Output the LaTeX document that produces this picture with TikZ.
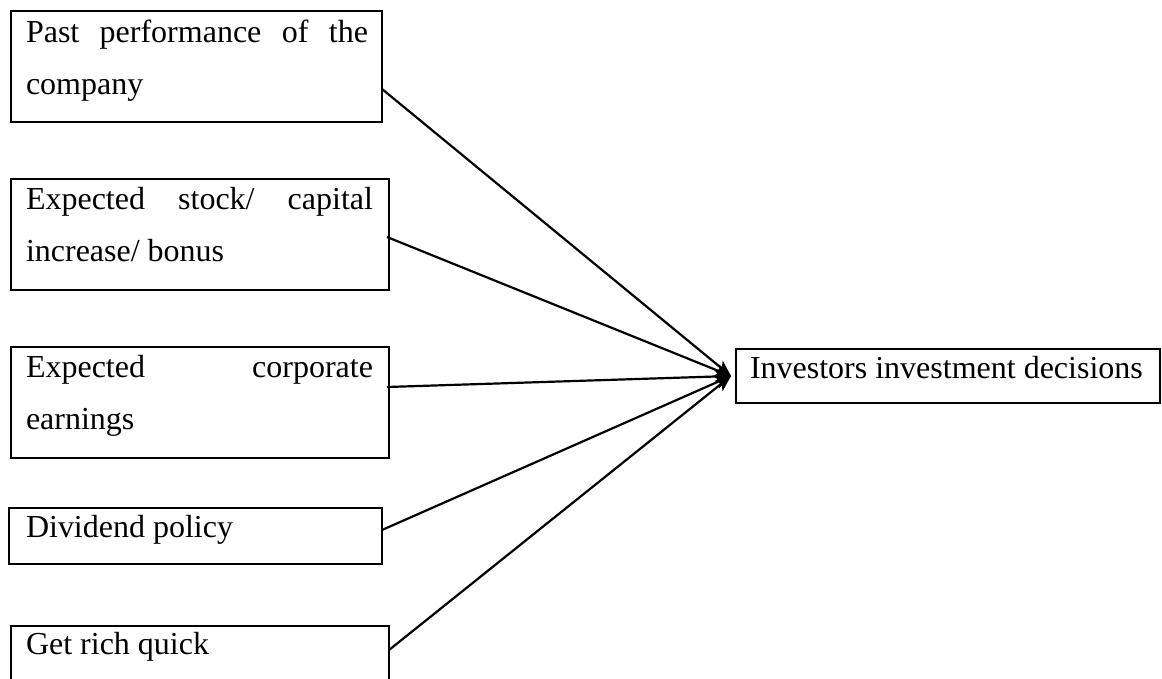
\documentclass[tikz,border=0pt]{standalone}
\usepackage{fontspec}
\setmainfont{Liberation Serif}
\usetikzlibrary{arrows.meta,calc}
\begin{document}
\begin{tikzpicture}[x=1pt,y=-1pt,
  boxnode/.style={draw, line width=2.2pt, anchor=north west, inner sep=0pt, outer sep=0pt},
  txt/.style={anchor=north west, inner sep=0pt, outer sep=0pt, align=left,
    font=\fontsize{32}{52}\selectfont},
  conn/.style={line width=2.2pt, -{Stealth[length=16pt,width=13pt,inset=4pt]}}
]
\clip (0,0) rectangle (1162,678);
\fill[white] (0,0) rectangle (1162,678);
% source boxes
\node[boxnode, minimum width=371pt, minimum height=111pt] (b1) at (11,11) {};
\node[boxnode, minimum width=378pt, minimum height=111pt] (b2) at (11,179) {};
\node[boxnode, minimum width=378pt, minimum height=111pt] (b3) at (11,347) {};
\node[boxnode, minimum width=373pt, minimum height=56pt] (b4) at (9,508) {};
\node[boxnode, minimum width=378pt, minimum height=90pt] (b5) at (11,626) {};
% target box
\node[boxnode, minimum width=424pt, minimum height=54pt] (t) at (736,349) {};
% texts
\node[txt] (l1) at ($(b1.north west)+(15,0)$)
  {\makebox[342pt][s]{\rule{0pt}{31pt}Past performance of the}\\company};
\node[txt] (l2) at ($(b2.north west)+(15,0)$)
  {\makebox[347pt][s]{\rule{0pt}{30pt}Expected stock/ capital}\\increase/ bonus};
\node[txt] (l3) at ($(b3.north west)+(15,0)$)
  {\makebox[347pt][s]{\rule{0pt}{30pt}Expected corporate}\\earnings};
\node[txt] (l4) at ($(b4.north west)+(17,0)$)
  {\rule{0pt}{29pt}Dividend policy};
\node[txt] (l5) at ($(b5.north west)+(15,0)$)
  {\rule{0pt}{28pt}Get rich quick};
\node[txt] (lt) at ($(t.north west)+(14,0)$)
  {\rule{0pt}{29pt}Investors investment decisions};
% connectors
\coordinate (tip) at ($(t.west)+(-5,0)$);
\coordinate (s1) at ($(b1.south east)+(0,-33)$);
\coordinate (s2) at ($(b2.south east)+(-2,-53)$);
\coordinate (s3) at ($(b3.south east)+(-2,-71)$);
\coordinate (s4) at ($(b4.south east)+(0,-34)$);
\coordinate (s5) at ($(b5.north east)+(0,24)$);
\draw[conn] (s1) -- (tip);
\draw[conn] (s2) -- (tip);
\draw[conn] (s3) -- (tip);
\draw[conn] (s4) -- (tip);
\draw[conn] (s5) -- (tip);
\end{tikzpicture}
\end{document}
